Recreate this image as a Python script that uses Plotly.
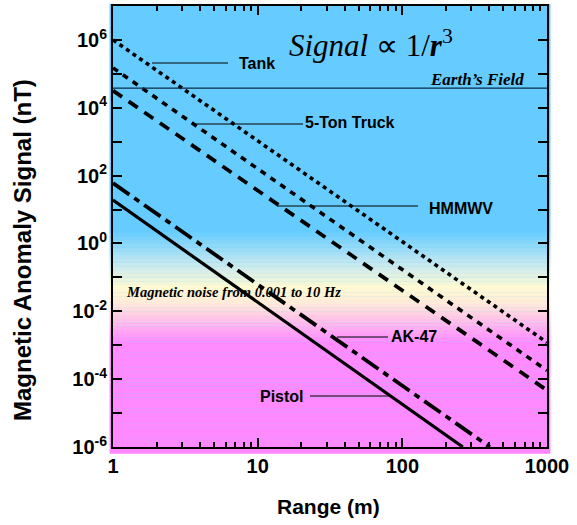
import plotly.graph_objects as go

# ---------------- data ----------------
series_names = ["Tank", "5-Ton Truck", "HMMWV", "AK-47", "Pistol"]
range_start = [1, 1, 1, 1, 1]
range_end = [1000, 1000, 1000, 403, 262]
signal_start = [1.0e6, 1.5e5, 3.2e4, 60, 19]
signal_end = [1.2e-3, 1.8e-4, 4.7e-5, 1.0e-6, 1.0e-6]

earth_field = 3.8e4
earth_range = [1, 1000]

x_tick_vals = [1, 10, 100, 1000]
x_tick_text = ["1", "10", "100", "1000"]
x_minor_vals = [2, 3, 4, 5, 6, 7, 8, 9, 20, 30, 40, 50, 60, 70, 80, 90,
                200, 300, 400, 500, 600, 700, 800, 900]
y_tick_vals = [1e-6, 1e-4, 1e-2, 1e0, 1e2, 1e4, 1e6]
y_tick_text = ["10<sup>-6</sup>", "10<sup>-4</sup>", "10<sup>-2</sup>", "10<sup>0</sup>",
               "10<sup>2</sup>", "10<sup>4</sup>", "10<sup>6</sup>"]
y_minor_vals = [1e-5, 1e-3, 1e-1, 1e1, 1e3, 1e5]

# ---------------- styles ----------------
dashes = ["4px,4px", "6px,6px", "11px,8px", "20px,6px,6px,6px", "solid"]
widths = [3.6, 3.6, 3.8, 3.8, 3.2]

W, H = 577, 525
L, R, T, B = 113, 30, 6, 78
PW, PH = W - L - R, H - T - B
YMIN, YMAX = -6, 7


def px(x):
    return (x - L) / PW


def py(y):
    return (H - B - y) / PH


SANS = "Liberation Sans, Arial, sans-serif"
SERIF = "Liberation Serif, Times New Roman, serif"

fig = go.Figure()

for name, xs, xe, ys, ye, d, w in zip(series_names, range_start, range_end,
                                        signal_start, signal_end, dashes, widths):
    fig.add_trace(go.Scatter(x=[xs, xe], y=[ys, ye], mode="lines", name=name,
                             line=dict(color="black", width=w, dash=d),
                             showlegend=False))

fig.add_trace(go.Scatter(x=earth_range, y=[earth_field, earth_field], mode="lines",
                         line=dict(color="#0d2a45", width=1.2), showlegend=False,
                         cliponaxis=False))

# ---------------- background gradient ----------------
stops = [  # (log10 value, rgb)
    (7.2, (102, 204, 255)),
    (0.35, (102, 204, 255)),
    (-0.6, (195, 232, 240)),
    (-1.3, (255, 250, 210)),
    (-1.8, (255, 232, 218)),
    (-2.9, (255, 140, 255)),
    (-6.2, (255, 136, 255)),
]


def col_at(v):
    for (v0, c0), (v1, c1) in zip(stops[:-1], stops[1:]):
        if v1 <= v <= v0:
            t = (v0 - v) / (v0 - v1) if v0 != v1 else 0
            return tuple(round(a + (b - a) * t) for a, b in zip(c0, c1))
    return stops[-1][1]


shapes = []
n = 120
lo, hi = -6.2, 7.05
step = (hi - lo) / n
for i in range(n):
    v0 = lo + i * step
    v1 = v0 + step
    c = col_at((v0 + v1) / 2)
    shapes.append(dict(type="rect", xref="paper", yref="paper",
                       x0=-0.008, x1=1.008,
                       y0=(v0 - YMIN) / (YMAX - YMIN), y1=(v1 - YMIN) / (YMAX - YMIN) + 0.0005,
                       fillcolor="rgb(%d,%d,%d)" % c, line=dict(width=0), layer="below"))

# leader lines (pixel positions)
leaders = [
    (152, 228, 63),   # Tank
    (192, 303, 124),  # 5-Ton Truck
    (277, 418, 206),  # HMMWV
    (337, 388, 337),  # AK-47
    (310, 390, 396),  # Pistol
]
for x0, x1, y in leaders:
    shapes.append(dict(type="line", xref="paper", yref="paper",
                       x0=px(x0), x1=px(x1), y0=py(y), y1=py(y),
                       line=dict(color="black", width=1.2)))

annotations = []
labels = [
    ("Tank", 237, 63),
    ("5-Ton Truck", 303, 123),
    ("HMMWV", 427, 208),
    ("AK-47", 389, 336),
    ("Pistol", 258, 396),
]
for txt, x, y in labels:
    annotations.append(dict(text=txt, xref="paper", yref="paper", x=px(x), y=py(y),
                            xanchor="left", yanchor="middle", showarrow=False,
                            font=dict(family=SANS, size=16, color="black", weight="bold")))

annotations.append(dict(text="<i>Signal</i> ∝ 1/<i><b>r</b></i><sup>3</sup>", xref="paper", yref="paper",
                        x=px(371), y=py(44), xanchor="center", yanchor="middle", showarrow=False,
                        font=dict(family=SERIF, size=31, color="black")))
annotations.append(dict(text="<b><i>Earth’s Field</i></b>", xref="paper", yref="paper",
                        x=px(526), y=py(79), xanchor="right", yanchor="middle", showarrow=False,
                        font=dict(family=SERIF, size=17, color="black")))
annotations.append(dict(text="<b><i>Magnetic noise from 0.001 to 10 Hz</i></b>", xref="paper", yref="paper",
                        x=px(124), y=py(292), xanchor="left", yanchor="middle", showarrow=False,
                        font=dict(family=SERIF, size=14.5, color="black")))
annotations.append(dict(text="<b>Magnetic Anomaly Signal (nT)</b>", xref="paper", yref="paper",
                        x=px(22), y=py(250), xanchor="center", yanchor="middle", showarrow=False,
                        textangle=-90, font=dict(family=SANS, size=24, color="black")))
annotations.append(dict(text="<b>Range (m)</b>", xref="paper", yref="paper",
                        x=px(328), y=py(507), xanchor="center", yanchor="middle", showarrow=False,
                        font=dict(family=SANS, size=21, color="black")))

fig.update_layout(
    width=W, height=H,
    margin=dict(l=L, r=R, t=T, b=B, pad=0, autoexpand=False),
    paper_bgcolor="white",
    plot_bgcolor="rgb(102,204,255)",
    shapes=shapes,
    annotations=annotations,
    showlegend=False,
)

fig.update_xaxes(type="log", range=[0, 3], showgrid=False, zeroline=False, automargin=False,
                 showline=True, linecolor="black", linewidth=2, mirror="ticks",
                 ticks="inside", ticklen=9, tickwidth=2, tickcolor="black",
                 tickvals=x_tick_vals, ticktext=x_tick_text,
                 tickfont=dict(family=SANS, size=20, color="black", weight="bold"),
                 minor=dict(tickvals=x_minor_vals, ticks="inside", ticklen=5,
                            tickwidth=2, tickcolor="black", showgrid=False))
fig.update_yaxes(type="log", range=[YMIN, YMAX], showgrid=False, zeroline=False, automargin=False,
                 showline=True, linecolor="black", linewidth=2, mirror="ticks",
                 ticks="inside", ticklen=9, tickwidth=2, tickcolor="black",
                 tickvals=y_tick_vals, ticktext=y_tick_text,
                 tickfont=dict(family=SANS, size=20, color="black", weight="bold"),
                 minor=dict(tickvals=y_minor_vals, ticks="inside", ticklen=9,
                            tickwidth=2, tickcolor="black", showgrid=False))

fig.write_html("out.html", config={"displayModeBar": False},
               post_script="document.body.style.margin='0';document.body.style.padding='0';")
